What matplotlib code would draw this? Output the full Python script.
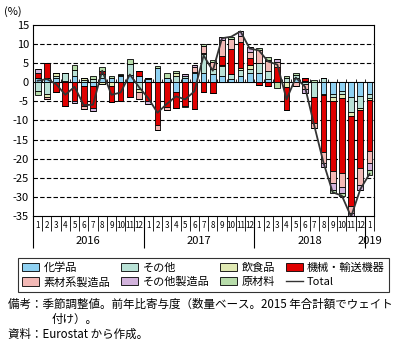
import numpy as np
import matplotlib
matplotlib.use("Agg")
import matplotlib.pyplot as plt
from matplotlib.patches import Patch
from matplotlib.lines import Line2D

plt.rcParams['font.family'] = ['Noto Sans CJK JP', 'DejaVu Sans']
plt.rcParams['axes.unicode_minus'] = False

# months Jan 2016 .. Jan 2019
months = [str(m) for m in list(range(1, 13)) * 3] + ['1']
years = ['2016', '2017', '2018', '2019']

names = ['化学品', 'その他', '飲食品', '機械・輸送機器', '素材系製造品', 'その他製造品', '原材料']
colors = ['#8fd1f2', '#b9e2d6', '#e0e9b3', '#e00000', '#f3b9b6', '#d2b3dc', '#b7dcaa']

chemicals = [1.2, 1.2, 1.0, 0.3, 1.5, -1.0, -1.0, 1.2, 1.2, 1.5, 2.0, 1.5,
             0.8, 3.7, 1.1, -2.5, 1.0, 2.5, 2.5, 2.1, 1.7, 0.8, 1.5, 2.3,
             2.5, 0.8, 0.0, 0.0, 1.0, 0.3, 0.0, -3.0, -3.2, -2.3, -4.0, -3.6,
             -3.0]
others = [-2.3, -3.2, 0.6, 2.2, 1.7, 0.6, 0.8, 0.9, 0.0, 0.4, 2.8, -1.7,
          0.0, 0.0, 0.0, 1.7, 0.6, 0.2, 4.8, 1.3, 2.6, 1.3, 1.8, 1.1,
          2.6, 2.2, 0.0, 1.2, 1.0, -0.6, -4.0, 1.0, -0.7, -0.9, -3.9, -3.1,
          -1.2]
food = [0.0, -0.6, 0.7, 0.0, 0.0, 0.4, 0.0, -0.4, -1.0, 0.0, 0.0, -1.0,
        0.4, 0.0, 0.0, 0.7, 0.0, 0.0, 0.3, 0.0, 0.3, 0.0, 0.3, 1.1,
        0.0, 0.0, 0.0, -1.2, 0.0, 0.0, 0.0, -0.4, -1.0, -1.0, -0.9, -0.7,
        -0.5]
machinery = [1.3, 3.9, -2.7, -6.2, -5.0, -5.2, -5.7, 0.9, -4.2, -4.9, -4.0, 1.3,
             -4.9, -11.1, -6.6, -4.2, -6.2, -6.9, -2.5, -2.9, 2.2, 6.6, 7.0, 1.9,
             -0.7, -1.1, 3.9, -6.2, 0.0, 0.8, -6.6, -14.9, -18.4, -19.6, -23.7, -15.1,
             -13.2]
materials = [0.0, -0.5, 0.0, 0.0, 0.0, -0.9, 0.0, 0.0, 0.0, 0.0, 0.0, -1.6,
             0.0, -1.3, -0.6, 0.0, 0.0, 1.2, 1.8, 1.9, 4.3, 2.5, 1.5, 1.6,
             3.3, 2.6, 1.3, 0.0, -1.0, -1.2, -1.3, -2.9, -3.1, -3.5, -1.8, -4.4,
             -3.2]
other_manuf = [1.0, 0.0, 0.0, 0.0, -0.5, 0.0, -0.9, 0.0, 0.0, 0.0, 0.0, 0.0,
               -0.9, 0.0, 0.0, 0.0, 0.5, 0.6, 0.0, 0.0, 0.6, 0.0, 1.2, 1.2,
               0.0, 0.3, 0.8, 0.0, 0.0, -1.0, 0.0, -1.1, -1.8, -1.8, -1.3, -1.3,
               -1.8]
raw = [-1.1, 0.0, 0.0, 0.0, 1.3, 0.0, 0.9, 0.9, 0.4, 0.2, 1.2, 0.0,
       0.0, 0.6, 1.3, 0.4, -0.4, 0.0, 0.7, 0.5, 0.0, 0.6, 0.0, 0.0,
       0.6, 0.6, -1.4, 0.5, 0.5, 0.0, 0.5, 0.0, -0.9, -0.6, 0.0, 0.0,
       -1.3]
total = [0.4, 0.8, -0.5, -3.3, -1.2, -6.0, -5.9, 3.0, -3.3, -2.7, 2.0, -1.3,
         -4.2, -8.0, -5.7, -3.7, -4.5, -2.4, 7.0, 3.0, 11.5, 11.9, 13.3, 8.8,
         8.3, 5.4, 4.6, -4.5, 1.2, -1.2, -11.3, -21.0, -28.8, -29.7, -35.2, -28.0,
         -24.0]

series = [chemicals, others, food, machinery, materials, other_manuf, raw]

fig = plt.figure(figsize=(4.08, 3.5), dpi=100)
ax = fig.add_axes([0.081, 0.383, 0.836, 0.546])

x = np.arange(len(months))
ax.set_xlim(-0.5, len(months) - 0.5)
ax.set_ylim(-35, 15)

# dashed gridlines, solid zero line with small month marks
for yv in range(-30, 15, 5):
    if yv != 0:
        ax.axhline(yv, color='black', lw=0.8, ls=(0, (4, 2)), zorder=0)
ax.axhline(0, color='black', lw=0.8, zorder=1)
bounds = np.arange(len(months) + 1) - 0.5
ax.vlines(bounds, 0, 0.9, color='black', lw=0.6, zorder=1)

pos_bottom = np.zeros(len(months))
neg_bottom = np.zeros(len(months))
for vals, c in zip(series, colors):
    v = np.array(vals)
    pos = np.where(v > 0, v, 0)
    neg = np.where(v < 0, v, 0)
    ax.bar(x, pos, 0.62, bottom=pos_bottom, color=c, edgecolor='black', lw=0.6, zorder=2)
    ax.bar(x, neg, 0.62, bottom=neg_bottom, color=c, edgecolor='black', lw=0.6, zorder=2)
    pos_bottom += pos
    neg_bottom += neg

ax.plot(x, total, color='#333333', lw=1.3, zorder=3)

ax.set_yticks(range(-35, 16, 5))
ax.set_yticklabels([str(v) for v in range(-35, 16, 5)], fontsize=8)
ax.tick_params(axis='y', length=0, pad=3)

# month / year rows under the axis
ax.set_xticks([-0.5, 11.5, 23.5, 35.5])
ax.set_xticklabels([])
ax.set_xticks(bounds, minor=True)
ax.tick_params(axis='x', which='major', length=23, width=0.8)
ax.tick_params(axis='x', which='minor', length=11, width=0.6)
for i, m in enumerate(months):
    ax.text(i, -0.052, m, transform=ax.get_xaxis_transform(), ha='center', va='center',
            fontsize=5.8)
for xp, yr in zip([5.5, 17.5, 29.5, 36], years):
    ax.text(xp, -0.13, yr, transform=ax.get_xaxis_transform(), ha='center', va='center',
            fontsize=8)
ax.text(-0.06, 1.068, '(%)', transform=ax.transAxes, ha='center', va='center', fontsize=8)

for s in ax.spines.values():
    s.set_linewidth(0.8)

# legend in column-major order
order = [0, 4, 1, 5, 2, 6, 3]
handles = []
labels = []
for k in order:
    handles.append(Patch(facecolor=colors[k], edgecolor='black', lw=0.6))
    labels.append(names[k])
handles.append(Line2D([], [], color='#333333', lw=1.0))
labels.append('Total')
leg = fig.legend(handles, labels, ncol=4, loc='upper center', bbox_to_anchor=(0.499, 0.264),
                 fontsize=8, frameon=True, fancybox=False, edgecolor='black',
                 handlelength=1.5, handleheight=0.8, handletextpad=0.4,
                 columnspacing=1.0, borderpad=0.4, labelspacing=0.35, borderaxespad=0)
leg.get_frame().set_linewidth(0.8)

fig.text(0.02, 1 - 304 / 350, '備考：季節調整値。前年比寄与度（数量ベース。2015 年合計額でウェイト',
         fontsize=8.3, va='center')
fig.text(0.127, 1 - 319 / 350, '付け）。', fontsize=8.3, va='center')
fig.text(0.02, 1 - 334 / 350, '資料：Eurostat から作成。', fontsize=8.3, va='center')

fig.savefig('out.png', dpi=100)
